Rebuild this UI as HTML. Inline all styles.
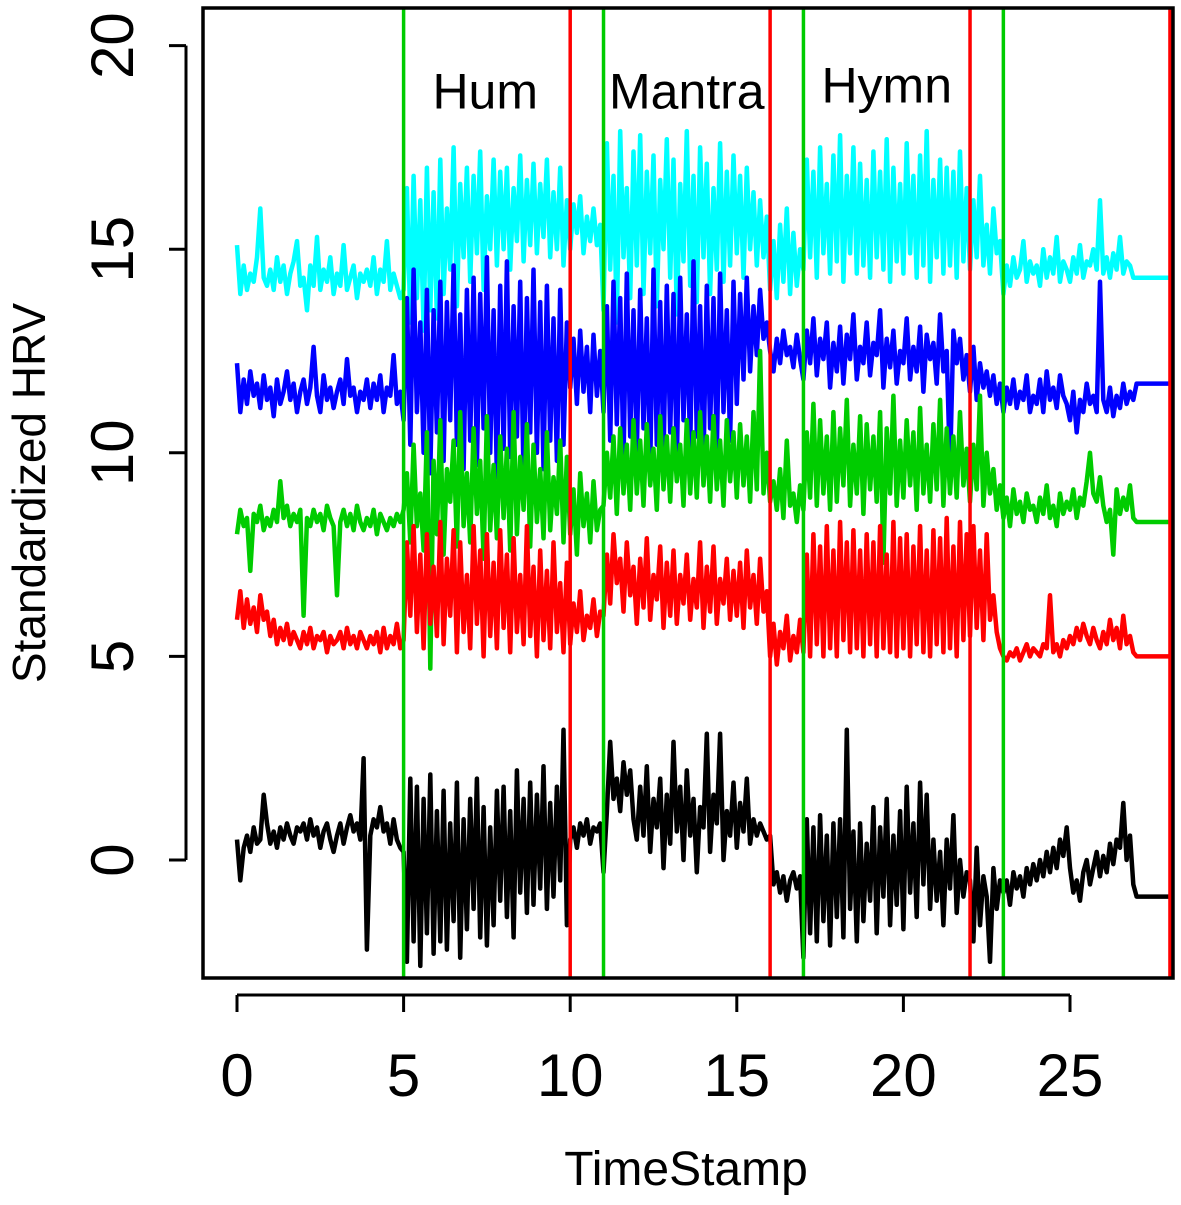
<!DOCTYPE html>
<html><head><meta charset="utf-8"><style>
html,body{margin:0;padding:0;background:#fff;}
svg{display:block;font-family:"Liberation Sans",Arial,sans-serif;}
</style></head><body>
<svg id="chart" width="1181" height="1205" viewBox="0 0 1181 1205"></svg>
<script>
// ---- data ----
const tStart = 0;
const tStep = 0.1;
const tEnd = 28;
const xTicks = [0, 5, 10, 15, 20, 25];
const yTicks = [0, 5, 10, 15, 20];
const greenMarks = [5, 11, 17, 23];
const redMarks = [10, 16, 22, 28];
const phaseLabels = ["Hum", "Mantra", "Hymn"];
const phaseLabelX = [7.45, 13.5, 19.5];
const phaseLabelY = [18.45, 18.45, 18.6];
const seriesNames = ["cyan", "blue", "green", "red", "black"];
const seriesColors = ["#00ffff", "#0000ff", "#00cc00", "#ff0000", "#000000"];
const endValues = [14.3, 11.7, 8.3, 5.0, -0.9];

const blackVals = [
0.5,-0.5,0.3,0.6,0.2,0.8,0.4,0.5,1.6,0.9,
0.4,0.7,0.3,0.8,0.5,0.9,0.6,0.4,0.8,0.7,
0.9,0.5,1.0,0.6,0.8,0.3,0.7,0.9,0.5,0.2,
0.6,0.9,0.4,0.8,1.1,0.7,0.9,0.5,2.5,-2.2,
0.6,1.0,0.8,1.3,0.7,0.9,0.4,1.0,0.5,0.3,
0.2,-2.5,2.0,-2.0,1.8,-2.6,1.5,-1.8,2.1,-2.3,
1.2,-2.0,1.7,-2.2,0.9,-1.5,1.9,-2.4,1.0,-1.7,
1.5,-1.2,2.0,-1.9,1.3,-2.1,0.8,-1.6,1.7,-1.0,
1.8,-1.4,1.2,-1.9,2.2,-0.8,1.5,-1.3,1.9,-1.1,
1.6,-0.7,2.3,-1.2,1.4,-0.9,1.8,-0.5,3.2,-1.6,
0.5,0.8,0.3,0.9,0.6,1.0,0.4,0.8,0.7,0.9,
-0.3,1.2,2.9,1.5,2.0,1.2,2.4,1.6,2.2,1.0,
0.5,1.8,0.6,2.3,0.2,1.5,0.8,2.0,-0.2,1.6,
0.4,2.9,0.7,1.8,0.0,2.2,0.6,1.5,-0.3,1.3,
0.8,3.1,0.2,1.6,0.9,3.1,0.0,1.2,0.6,1.9,
0.3,1.4,0.7,2.0,0.4,1.0,0.6,0.9,0.7,0.5,
0.6,-0.6,-0.3,-0.8,-0.4,-1.0,-0.5,-0.3,-0.7,-0.4,
-2.4,1.0,-1.8,0.8,-2.0,1.1,-1.5,0.6,-2.1,0.9,
-1.4,1.0,-1.9,3.2,-1.2,0.7,-2.0,0.9,-1.5,0.4,
-1.0,1.3,-1.8,0.8,-0.9,1.5,-1.6,0.6,-1.1,1.2,
-1.7,1.8,-0.8,0.9,-1.4,1.9,-0.6,1.6,-1.2,0.5,
-1.0,0.2,-1.6,0.5,-0.7,1.1,-1.3,0.0,-0.9,-0.3,
-0.5,-2.0,0.3,-1.6,-0.4,-0.9,-2.5,-0.2,-1.2,-0.5,
-0.8,-0.5,-1.1,-0.3,-0.7,-0.4,-0.9,-0.2,-0.6,-0.1,
-0.5,0.0,-0.4,0.2,-0.3,0.3,-0.2,0.5,0.1,0.8,
-0.2,-0.8,-0.5,-1.0,-0.3,0.0,-0.6,-0.2,0.2,-0.4,
0.1,-0.3,0.4,-0.1,0.5,0.3,1.4,0.0,0.6,-0.6,
-0.9];

const redVals = [
5.9,6.6,5.7,6.4,5.8,6.2,5.6,6.5,5.9,6.1,
5.5,5.9,5.3,5.7,5.4,5.8,5.3,5.6,5.4,5.2,
5.6,5.3,5.7,5.2,5.5,5.4,5.6,5.1,5.5,5.3,
5.4,5.6,5.2,5.7,5.3,5.5,5.2,5.6,5.4,5.2,
5.5,5.3,5.6,5.1,5.7,5.2,5.5,5.3,5.8,5.2,
5.4,7.8,6.0,8.2,5.6,7.5,5.2,8.0,5.8,7.2,
5.5,8.3,5.3,7.4,6.0,8.1,5.1,7.8,5.6,7.0,
5.2,8.2,5.8,7.6,5.0,8.0,5.5,7.3,5.2,8.1,
5.7,7.5,5.1,7.9,5.6,7.0,5.3,8.2,5.5,7.2,
5.0,7.6,5.4,7.1,5.2,7.8,5.6,6.8,5.1,7.3,
5.3,6.3,5.6,6.6,5.4,6.0,5.7,6.4,5.5,6.1,
6.0,7.5,6.3,8.0,6.8,7.4,6.1,7.8,6.5,7.2,
5.8,7.4,6.2,7.9,5.9,7.0,6.4,7.7,5.7,7.3,
6.0,7.6,5.8,7.0,6.3,7.5,5.9,6.9,6.2,7.8,
5.7,7.2,6.1,7.7,5.8,6.9,6.3,7.4,5.9,7.1,
6.0,7.3,5.7,7.6,6.2,7.0,5.8,7.4,6.1,6.6,
5.0,5.8,4.8,5.6,5.2,6.0,4.9,5.5,5.1,5.9,
5.1,7.5,5.0,8.0,5.3,7.7,5.0,8.2,5.2,7.6,
5.0,8.3,5.4,7.8,5.1,8.1,5.2,7.6,5.0,8.0,
5.3,7.8,5.0,8.2,5.2,7.5,5.1,8.3,5.0,7.9,
5.2,8.0,5.0,7.7,5.3,8.2,5.1,7.6,5.0,8.1,
5.3,7.9,5.1,8.4,5.2,7.7,5.0,8.3,5.4,8.0,
5.5,8.2,5.7,7.6,5.4,8.0,5.9,6.5,5.6,5.2,
5.0,4.9,5.1,5.0,5.2,4.9,5.1,5.3,5.0,5.2,
5.1,5.0,5.3,5.2,6.5,5.1,5.3,5.0,5.4,5.2,
5.5,5.3,5.7,5.4,5.8,5.5,5.3,5.7,5.4,5.2,
5.6,5.3,5.9,5.4,5.7,5.2,6.0,5.3,5.5,5.1,
5.0];

const greenVals = [
8.0,8.6,8.2,8.4,7.1,8.5,8.3,8.7,8.1,8.4,
8.2,8.6,8.3,9.3,8.4,8.7,8.2,8.5,8.3,8.6,
6.0,8.4,8.2,8.6,8.3,8.5,8.1,8.7,8.4,8.2,
6.5,8.3,8.6,8.2,8.5,8.1,8.7,8.3,8.1,8.4,
8.2,8.6,8.0,8.5,8.3,8.1,8.4,8.2,8.5,8.3,
8.6,9.5,7.8,10.2,8.2,9.0,7.6,10.5,4.7,9.8,
8.0,10.8,7.5,9.6,8.8,10.3,7.7,11.0,8.2,9.5,
7.8,10.6,8.5,9.8,7.4,10.9,8.1,9.7,7.9,10.4,
8.4,10.1,7.6,11.0,8.0,9.9,8.6,10.7,7.7,10.2,
8.3,9.6,7.9,10.5,8.1,9.4,8.5,10.3,7.8,9.9,
8.0,9.1,7.5,9.5,8.2,9.0,7.8,9.3,8.1,8.6,
8.7,10.0,8.9,10.4,8.5,10.6,9.0,10.2,8.6,10.8,
9.0,10.3,8.7,10.7,9.2,10.1,8.6,10.9,9.1,10.4,
8.8,10.6,9.3,10.2,8.7,10.8,9.0,10.5,8.9,11.0,
9.2,10.4,8.8,10.9,9.1,10.3,8.7,10.8,9.3,10.5,
8.9,10.7,9.2,10.4,8.8,11.0,9.1,12.5,9.0,10.0,
8.8,9.3,8.6,9.6,8.4,10.3,8.7,9.0,8.3,9.2,
8.6,10.5,8.9,11.2,8.7,10.8,9.0,10.4,8.6,11.0,
8.8,10.6,9.2,11.3,8.7,10.2,9.0,10.9,8.5,10.7,
9.1,10.4,8.8,11.0,7.3,10.6,9.0,11.4,8.7,10.3,
8.9,10.8,9.2,10.5,8.6,11.1,9.0,10.2,8.8,10.7,
9.1,11.3,8.7,10.6,9.0,10.4,8.9,11.0,9.2,10.1,
8.8,10.2,9.1,11.4,8.7,10.0,9.0,9.6,8.6,9.2,
8.4,8.9,8.2,9.1,8.5,8.8,8.3,9.0,8.6,8.7,
8.3,8.9,8.5,9.2,8.4,8.7,8.2,9.0,8.5,8.8,
8.6,9.1,8.4,8.9,8.7,9.3,10.0,9.0,8.8,9.4,
8.7,8.3,8.6,7.5,9.1,8.5,8.9,8.6,9.2,8.4,
8.3];

const blueVals = [
12.2,11.0,11.8,11.2,12.0,11.4,11.7,11.1,11.9,11.3,
11.6,10.9,11.8,11.2,11.5,12.0,11.3,11.7,11.0,11.5,
11.8,11.2,11.6,12.6,11.4,11.0,11.9,11.3,11.6,11.1,
11.5,11.8,11.2,12.3,11.4,11.6,11.0,11.5,11.3,11.8,
11.1,11.7,11.3,11.9,11.0,11.6,11.4,12.4,11.2,11.5,
10.8,13.8,10.2,14.5,11.0,13.2,10.0,14.0,9.5,13.5,
10.5,14.2,9.8,13.7,10.8,14.6,10.2,13.4,9.6,14.0,
10.3,14.3,9.7,13.9,10.6,14.8,10.0,13.5,9.4,14.1,
10.1,14.7,9.9,13.6,10.4,14.2,9.3,13.8,10.5,14.5,
10.0,13.7,9.6,14.1,10.3,13.3,9.8,14.0,10.2,13.2,
11.6,12.8,11.2,13.0,11.5,12.6,11.0,12.9,11.4,12.5,
11.0,13.6,10.3,14.2,10.7,13.8,9.8,14.4,10.4,13.5,
10.0,14.0,10.6,13.3,9.6,14.5,10.2,13.7,9.9,14.1,
10.5,13.9,9.7,14.3,10.8,13.4,10.1,14.7,10.4,13.6,
9.8,14.1,10.6,13.8,10.0,14.4,11.0,13.5,10.3,14.2,
11.2,13.9,11.8,14.3,12.0,13.6,12.4,14.0,12.8,13.2,
12.5,12.0,12.8,12.2,13.0,12.4,12.6,12.1,12.9,12.3,
11.8,13.0,12.2,13.3,11.9,12.8,12.3,13.2,11.6,12.7,
12.0,13.1,11.7,12.9,12.3,13.4,11.8,12.6,12.2,13.2,
11.9,12.7,12.4,13.5,11.6,12.8,12.1,13.0,11.7,12.5,
12.2,13.3,11.8,12.6,12.0,13.1,11.5,12.9,12.3,12.7,
11.7,13.4,12.0,12.5,9.6,13.0,12.2,12.8,11.8,12.4,
11.5,12.6,11.3,12.2,11.6,12.0,11.4,11.9,11.2,11.7,
11.0,11.6,11.2,11.8,11.1,11.5,11.3,11.9,11.0,11.4,
11.2,11.8,11.0,12.0,11.3,11.6,11.1,11.9,11.4,11.2,
10.8,11.5,10.5,11.3,11.0,11.7,11.2,11.4,11.0,14.2,
11.3,11.0,11.6,10.9,11.4,11.1,11.7,11.2,11.5,11.3,
11.7];

const cyanVals = [
15.1,13.9,14.6,14.0,14.4,14.2,14.8,16.0,14.3,14.1,
14.5,14.0,14.8,14.2,14.6,13.9,14.4,14.7,15.2,14.1,
14.3,13.5,14.6,14.1,15.3,14.0,14.5,14.2,14.8,13.9,
14.4,14.1,15.1,14.0,14.3,14.6,13.8,14.4,14.2,14.5,
14.1,14.8,13.9,14.5,14.2,15.2,14.0,14.4,14.1,13.8,
14.0,16.5,13.2,16.8,13.8,16.2,13.0,17.0,13.5,16.4,
13.3,17.2,13.9,16.0,14.5,17.5,13.6,16.6,14.8,17.0,
14.2,16.8,14.9,17.4,14.0,16.3,15.0,17.2,14.6,16.9,
15.0,17.0,14.5,16.5,15.2,17.3,14.7,16.7,15.1,17.1,
14.9,16.6,15.3,17.2,14.8,16.4,15.0,17.0,14.6,16.2,
15.0,16.1,15.4,16.3,14.9,15.8,15.2,16.0,15.1,15.6,
13.5,17.6,14.5,16.8,13.2,17.9,14.8,16.5,13.8,17.4,
14.6,17.8,13.9,16.9,14.9,17.3,13.6,16.7,15.0,17.7,
14.3,17.2,13.4,16.6,14.7,17.9,14.1,16.8,13.7,17.5,
14.8,17.1,13.9,16.5,14.5,17.6,14.2,16.9,14.6,17.3,
14.9,16.8,14.3,17.0,15.0,16.4,14.6,16.2,14.8,15.8,
14.0,15.2,13.8,15.6,14.2,16.0,13.9,15.4,14.1,15.0,
14.5,17.2,14.8,16.9,14.3,17.5,14.9,16.6,14.4,17.3,
14.7,17.8,14.2,16.8,14.9,17.5,14.4,17.1,14.6,16.7,
14.3,17.4,14.8,16.9,14.5,17.7,14.2,17.0,14.7,16.6,
14.4,17.6,14.9,16.8,14.3,17.3,14.6,17.9,14.2,16.7,
14.8,17.2,14.4,17.0,14.6,16.9,14.3,17.4,14.7,16.5,
14.5,16.2,14.8,16.8,14.6,15.6,14.4,16.0,14.9,15.2,
13.9,14.6,14.1,14.8,14.3,14.5,15.2,14.2,14.7,14.4,
14.6,14.1,15.0,14.3,14.8,14.4,15.3,14.2,14.7,14.5,
14.2,14.8,14.4,15.1,14.3,14.7,14.6,15.0,14.5,16.2,
14.4,14.8,14.3,14.9,14.5,15.3,14.4,14.7,14.6,14.3,
14.3];

const allSeries = [cyanVals, blueVals, greenVals, redVals, blackVals];

// ---- layout ----
const plotL = 203, plotR = 1173, plotT = 8, plotB = 978;
const x = v => 237 + v * 33.32;
const y = v => 860 - v * 40.72;
const NS = "http://www.w3.org/2000/svg";
const svg = document.getElementById("chart");
function mk(tag, attrs, parent) {
  const e = document.createElementNS(NS, tag);
  for (const k in attrs) e.setAttribute(k, attrs[k]);
  (parent || svg).appendChild(e);
  return e;
}

const defs = mk("defs", {});
const cp = mk("clipPath", {id: "clip"}, defs);
mk("rect", {x: plotL, y: plotT, width: plotR - plotL, height: plotB - plotT}, cp);

const dataG = mk("g", {"clip-path": "url(#clip)"});



allSeries.forEach((vals, si) => {
  let d = "";
  vals.forEach((v, i) => {
    const t = tStart + i * tStep;
    d += (i ? "L" : "M") + x(t).toFixed(1) + "," + y(v).toFixed(1);
  });
  d += "L" + x(tEnd).toFixed(1) + "," + y(endValues[si]).toFixed(1);
  const p = mk("path", {d: d, fill: "none", stroke: seriesColors[si], "stroke-width": 4.5, "stroke-linejoin": "round"}, dataG);
  
  
});

greenMarks.forEach(m => {
  const l = mk("line", {x1: x(m), x2: x(m), y1: plotT, y2: plotB, stroke: "#00cc00", "stroke-width": 3.5}, dataG);
  
  
});
redMarks.forEach(m => {
  const l = mk("line", {x1: x(m), x2: x(m), y1: plotT, y2: plotB, stroke: "#ff0000", "stroke-width": 3.5}, dataG);
  
  
});

phaseLabels.forEach((s, i) => {
  const t = mk("text", {x: x(phaseLabelX[i]), y: y(phaseLabelY[i]), "font-size": 50, "text-anchor": "middle", fill: "#000"});
  t.textContent = s;
  
  
});

const frame = mk("rect", {x: plotL, y: plotT, width: plotR - plotL, height: plotB - plotT, fill: "none", stroke: "#000", "stroke-width": 3.5});



// x axis
const xa = mk("g", {});


mk("line", {x1: x(xTicks[0]), x2: x(xTicks[xTicks.length - 1]), y1: 995, y2: 995, stroke: "#000", "stroke-width": 3}, xa);
xTicks.forEach(v => {
  mk("line", {x1: x(v), x2: x(v), y1: 995, y2: 1012, stroke: "#000", "stroke-width": 3}, xa);
  const t = mk("text", {x: x(v), y: 1096, "font-size": 60, "text-anchor": "middle"}, xa);
  t.textContent = v;
  
  
});
// y axis
const ya = mk("g", {});


mk("line", {x1: 186, x2: 186, y1: y(yTicks[0]), y2: y(yTicks[yTicks.length - 1]), stroke: "#000", "stroke-width": 3}, ya);
yTicks.forEach(v => {
  mk("line", {x1: 169, x2: 186, y1: y(v), y2: y(v), stroke: "#000", "stroke-width": 3}, ya);
  const t = mk("text", {x: 0, y: 0, "font-size": 60, "text-anchor": "middle", transform: "translate(133," + y(v) + ") rotate(-90)"}, ya);
  t.textContent = v;
  
  
});

const xt = mk("text", {x: 686, y: 1185, "font-size": 48, "text-anchor": "middle"});
xt.textContent = "TimeStamp";


const yt = mk("text", {x: 0, y: 0, "font-size": 46, "text-anchor": "middle", transform: "translate(45,493) rotate(-90)"});
yt.textContent = "Standardized HRV";


</script>
</body></html>
